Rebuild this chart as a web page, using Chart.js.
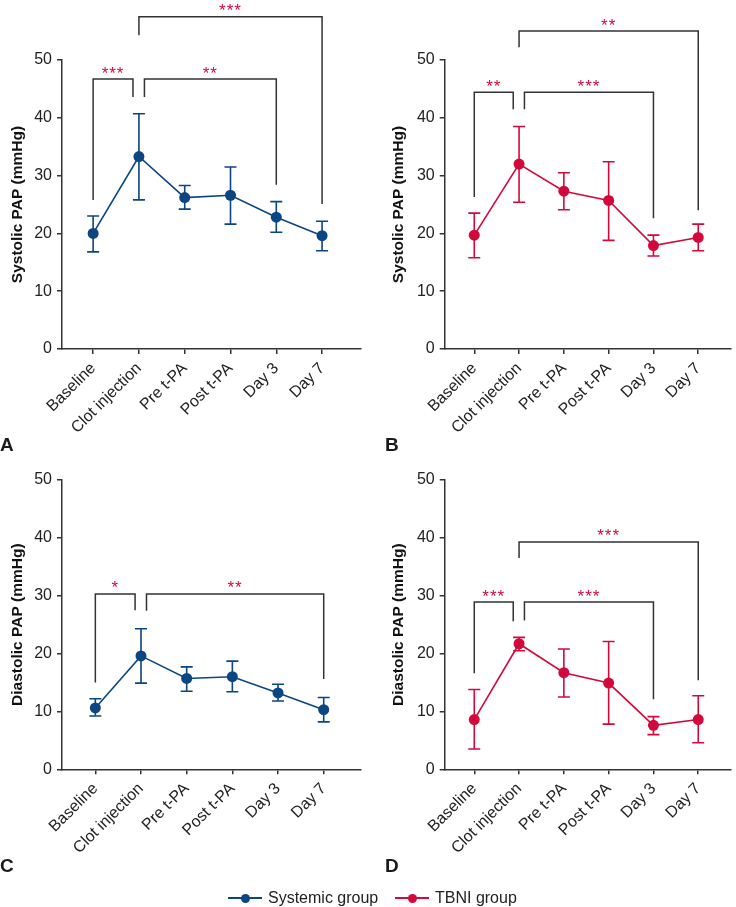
<!DOCTYPE html>
<html>
<head>
<meta charset="utf-8">
<script src="https://cdn.jsdelivr.net/npm/chart.js@4/dist/chart.umd.min.js"></script>
<style>
  body { margin: 0; background: #fff; font-family: 'Liberation Sans', Arial, sans-serif; }
  #wrap { position: relative; width: 736px; height: 907px; }
  canvas { position: absolute; }
  .tag { position: absolute; font-weight: bold; font-size: 19px; line-height: 19px; color: #1a1a1a; }
  .item { position: absolute; top: 888px; height: 20px; display: flex; align-items: center; font-size: 16px; color: #222; }
  .sw { position: relative; width: 34px; height: 20px; margin-right: 6px; }
  .sw::before { content: ''; position: absolute; left: 0; right: 0; top: 9.2px; height: 1.6px; background: var(--c); }
  .sw::after { content: ''; position: absolute; left: 12.5px; top: 5.5px; width: 9px; height: 9px; border-radius: 50%; background: var(--c); }
</style>
</head>
<body>
<div id="wrap">
  <canvas id="chartA" width="368" height="440" style="left:0;top:0"></canvas>
  <canvas id="chartB" width="368" height="440" style="left:368px;top:0"></canvas>
  <canvas id="chartC" width="368" height="420" style="left:0;top:440px"></canvas>
  <canvas id="chartD" width="368" height="420" style="left:368px;top:440px"></canvas>
  <div class="tag" style="left:0;top:435px">A</div>
  <div class="tag" style="left:385px;top:435px">B</div>
  <div class="tag" style="left:0;top:856px">C</div>
  <div class="tag" style="left:385px;top:856px">D</div>
  <div class="item" style="left:228px"><span class="sw" style="--c:#0b4582"></span>Systemic group</div>
  <div class="item" style="left:395px"><span class="sw" style="--c:#d20a3c"></span>TBNI group</div>
</div>
<script>
// --- Data ---
const categories = ['Baseline', 'Clot injection', 'Pre t-PA', 'Post t-PA', 'Day 3', 'Day 7'];
const yTicks = [0, 10, 20, 30, 40, 50];

// Systolic PAP, systemic group (mean, upper, lower)
const sysSystemic   = [20.0, 33.3, 26.2, 26.6, 22.8, 19.6];
const sysSystemicHi = [23.0, 40.7, 28.3, 31.5, 25.5, 22.1];
const sysSystemicLo = [16.8, 25.8, 24.2, 21.6, 20.2, 17.0];

// Systolic PAP, TBNI group
const sysTbni   = [19.7, 32.0, 27.3, 25.7, 17.9, 19.3];
const sysTbniHi = [23.5, 38.5, 30.5, 32.4, 19.7, 21.6];
const sysTbniLo = [15.8, 25.4, 24.1, 18.8, 16.1, 17.0];

// Diastolic PAP, systemic group
const diaSystemic   = [10.6, 19.6, 15.7, 16.0, 13.2, 10.3];
const diaSystemicHi = [12.2, 24.3, 17.7, 18.7, 14.7, 12.4];
const diaSystemicLo = [9.2, 14.9, 13.5, 13.4, 11.8, 8.2];

// Diastolic PAP, TBNI group
const diaTbni   = [8.6, 21.7, 16.7, 14.9, 7.6, 8.6];
const diaTbniHi = [13.8, 22.8, 20.8, 22.1, 9.1, 12.7];
const diaTbniLo = [3.5, 20.5, 12.5, 7.8, 6.0, 4.6];

// Significance brackets: [from x, to x, bar level, left leg end, right leg end, stars]
const bracketsA = [[0, 0.87, 46.7, 25.8, 43.6, '***'], [1.12, 4, 46.7, 43.6, 28.4, '**'], [1, 5, 57.5, 54.3, 25.1, '***']];
const bracketsB = [[0, 0.87, 44.4, 26.3, 41.5, '**'], [1.12, 4, 44.4, 41.5, 22.6, '***'], [1, 5, 55.0, 52.2, 24.0, '**']];
const bracketsC = [[0, 0.87, 30.3, 15.0, 27.5, '*'], [1.12, 5, 30.3, 27.4, 15.6, '**']];
const bracketsD = [[0, 0.87, 28.9, 16.6, 25.6, '***'], [1.12, 4, 28.9, 25.7, 12.1, '***'], [1, 5, 39.3, 36.5, 15.4, '***']];

const BLUE = '#0b4582';
const RED = '#d20a3c';
const INK = '#222';
const FONT = "'Liberation Sans', Arial, sans-serif";

// --- Plugins ---
const errorBars = {
    id: 'errorBars',
    beforeDatasetsDraw(chart, args, opts) {
        const { ctx, scales: { x, y } } = chart;
        ctx.save();
        ctx.strokeStyle = opts.color;
        ctx.lineWidth = 1.6;
        opts.hi.forEach((h, i) => {
            const px = x.getPixelForValue(i);
            const top = y.getPixelForValue(h);
            const bot = y.getPixelForValue(opts.lo[i]);
            ctx.beginPath();
            ctx.moveTo(px, top); ctx.lineTo(px, bot);
            ctx.moveTo(px - 6, top); ctx.lineTo(px + 6, top);
            ctx.moveTo(px - 6, bot); ctx.lineTo(px + 6, bot);
            ctx.stroke();
        });
        ctx.restore();
    }
};

const brackets = {
    id: 'brackets',
    afterDatasetsDraw(chart, args, opts) {
        const { ctx, scales: { x, y } } = chart;
        ctx.save();
        opts.list.forEach(([x0, x1, level, end0, end1, stars]) => {
            const l = x.getPixelForValue(x0), r = x.getPixelForValue(x1);
            const t = y.getPixelForValue(level);
            ctx.strokeStyle = '#333';
            ctx.lineWidth = 1.5;
            ctx.beginPath();
            ctx.moveTo(l, y.getPixelForValue(end0));
            ctx.lineTo(l, t);
            ctx.lineTo(r, t);
            ctx.lineTo(r, y.getPixelForValue(end1));
            ctx.stroke();
            ctx.fillStyle = RED;
            ctx.font = '17px ' + FONT;
            ctx.letterSpacing = '1px';
            ctx.textAlign = 'center';
            ctx.textBaseline = 'alphabetic';
            ctx.fillText(stars, (l + r) / 2, t - 0.5);
        });
        ctx.restore();
    }
};

// --- Chart builder ---
function makePanel(id, p) {
    const canvas = document.getElementById(id);
    return new Chart(canvas.getContext('2d'), {
        type: 'line',
        data: {
            datasets: [{
                data: p.values.map((v, i) => ({ x: i, y: v })),
                borderColor: p.color,
                backgroundColor: p.color,
                borderWidth: 1.6,
                pointRadius: 5.5,
                pointBorderWidth: 0,
                pointBackgroundColor: p.color
            }]
        },
        options: {
            responsive: false,
            animation: false,
            layout: { padding: { left: p.padLeft, top: p.top, right: canvas.width - p.right, bottom: 0 } },
            plugins: {
                legend: { display: false },
                tooltip: { enabled: false },
                errorBars: { color: p.color, hi: p.hi, lo: p.lo },
                brackets: { list: p.brackets }
            },
            scales: {
                x: {
                    type: 'linear',
                    min: p.xMin,
                    max: p.xMax,
                    afterBuildTicks: s => { s.ticks = categories.map((c, i) => ({ value: i })); },
                    afterFit: s => { s.height = canvas.height - p.bottom; },
                    grid: { display: true, drawOnChartArea: false, tickLength: 5, color: '#333', lineWidth: 1.5 },
                    border: { color: '#333', width: 1.5 },
                    ticks: {
                        autoSkip: false,
                        minRotation: 45,
                        maxRotation: 45,
                        padding: 5,
                        color: INK,
                        font: { family: FONT, size: 16 },
                        callback: v => categories[v]
                    }
                },
                y: {
                    min: 0,
                    max: 50,
                    afterBuildTicks: s => { s.ticks = yTicks.map(v => ({ value: v })); },
                    afterFit: s => { s.width = p.axisLeft - p.padLeft; },
                    grid: { display: true, drawOnChartArea: false, tickLength: 5, color: '#333', lineWidth: 1.5 },
                    border: { color: '#333', width: 1.5 },
                    ticks: { padding: 5, color: INK, font: { family: FONT, size: 16 } },
                    title: {
                        display: true,
                        text: p.title,
                        color: '#111',
                        padding: { top: 8.5, bottom: 0 },
                        font: { family: FONT, size: 15.5, weight: 'bold' }
                    }
                }
            }
        },
        plugins: [errorBars, brackets]
    });
}

makePanel('chartA', {
    title: 'Systolic PAP (mmHg)', color: BLUE, values: sysSystemic, hi: sysSystemicHi, lo: sysSystemicLo,
    brackets: bracketsA, axisLeft: 62, padLeft: 0, top: 60, bottom: 349, right: 361, xMin: -0.68, xMax: 5.85
});
makePanel('chartB', {
    title: 'Systolic PAP (mmHg)', color: RED, values: sysTbni, hi: sysTbniHi, lo: sysTbniLo,
    brackets: bracketsB, axisLeft: 76.7, padLeft: 12.5, top: 60, bottom: 349, right: 368, xMin: -0.66, xMax: 5.72
});
makePanel('chartC', {
    title: 'Diastolic PAP (mmHg)', color: BLUE, values: diaSystemic, hi: diaSystemicHi, lo: diaSystemicLo,
    brackets: bracketsC, axisLeft: 62, padLeft: 0, top: 40, bottom: 329.3, right: 360.7, xMin: -0.73, xMax: 5.81
});
makePanel('chartD', {
    title: 'Diastolic PAP (mmHg)', color: RED, values: diaTbni, hi: diaTbniHi, lo: diaTbniLo,
    brackets: bracketsD, axisLeft: 76.7, padLeft: 12.5, top: 40, bottom: 329.3, right: 368, xMin: -0.66, xMax: 5.72
});
</script>
</body>
</html>
